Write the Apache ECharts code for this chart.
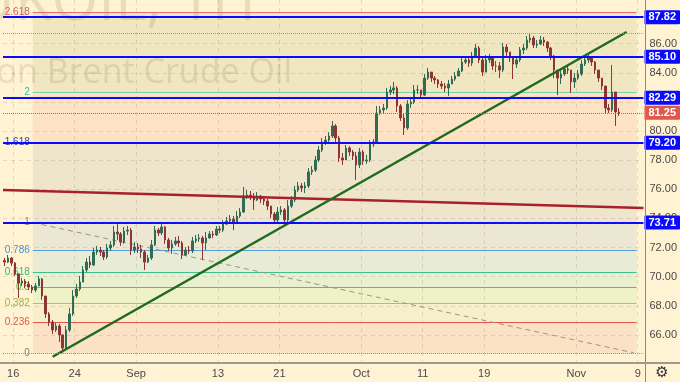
<!DOCTYPE html>
<html><head><meta charset="utf-8">
<script src="https://cdn.jsdelivr.net/npm/echarts/dist/echarts.min.js"></script>
<style>html,body{margin:0;padding:0;background:#fff3d3}#c{width:680px;height:382px}</style>
</head><body><div id="c"></div>
<script>
// ---- x axis: trading-day index (0 = Aug 16) -> tick label
const dayLabels = {0:'16',6:'24',12:'Sep',20:'13',26:'21',34:'Oct',40:'11',46:'19',55:'Nov',61:'9'};
const yTicks = [66,68,70,72,74,76,78,80,82,84,86];
const barsPerDay = 3;       // 8-hour candles
const firstBarDay = -1;     // first candle starts on the trading day before Aug 16
const firstOpen = 71.10;

const closes = [
71.00,71.28,70.93,70.19,69.56,69.70,69.50,69.29,69.08,69.36,
69.84,68.67,67.44,66.88,66.34,66.61,66.00,65.10,66.34,67.44,
68.67,69.15,69.63,70.46,71.00,70.80,71.69,71.83,71.69,71.35,
71.97,72.18,73.06,72.93,72.38,73.13,73.20,71.83,72.04,71.90,
71.69,71.00,71.28,72.18,73.20,73.00,73.41,72.52,71.97,72.25,
72.45,72.31,71.49,71.83,71.76,72.45,72.59,72.66,72.31,72.66,
72.93,72.86,73.27,73.20,73.61,73.82,73.96,73.75,74.16,74.44,
75.54,75.61,75.54,75.26,75.54,75.33,75.19,74.85,74.30,73.89,
74.44,74.58,73.89,74.85,75.26,75.95,76.23,76.09,76.23,77.19,
77.32,78.01,78.70,79.25,79.38,79.66,80.35,79.52,78.15,78.01,
78.84,78.56,78.29,77.67,78.56,77.94,78.01,79.11,79.25,81.24,
81.45,81.58,82.68,82.82,82.96,81.72,80.90,80.21,81.86,81.99,
82.82,82.82,82.47,83.64,84.05,83.64,83.51,83.23,83.09,82.96,
83.23,83.57,83.78,84.12,84.74,84.88,84.67,85.15,85.70,84.88,
84.05,84.88,85.02,84.47,84.47,84.19,85.77,85.43,85.02,84.60,
84.88,85.57,85.70,86.25,86.39,85.91,85.98,86.25,86.11,85.70,
85.15,84.19,83.64,83.92,84.26,84.19,83.37,83.64,83.92,84.60,
84.88,85.02,84.74,84.19,83.64,83.09,81.58,81.45,82.68,81.31,
81.25];
const highs = [
71.28,71.49,71.35,71.00,70.05,69.91,69.84,69.70,69.43,69.56,
70.05,69.91,68.67,67.57,67.02,66.81,66.75,66.00,66.61,67.85,
69.08,69.50,70.05,70.73,71.28,71.42,71.97,72.11,72.04,71.83,
72.25,72.45,73.48,73.61,73.06,73.41,73.48,73.34,72.38,72.31,
72.18,71.83,71.49,72.52,73.48,73.34,73.75,73.48,72.66,72.52,
72.73,72.79,72.45,72.04,72.11,72.73,72.86,72.93,72.79,73.06,
73.13,73.13,73.48,73.48,73.89,74.10,74.23,74.16,74.51,74.71,
76.16,75.95,75.88,75.74,75.81,75.61,75.54,75.33,74.85,74.44,
74.78,74.85,74.71,75.26,75.54,76.23,76.50,76.43,76.50,77.46,
77.60,78.29,78.97,79.52,79.66,79.93,80.69,80.48,79.66,78.49,
79.04,78.97,78.70,78.56,78.84,78.70,78.36,79.38,79.45,81.72,
81.72,81.86,82.96,83.09,83.37,83.09,81.86,81.17,82.13,82.27,
83.16,83.16,82.82,83.92,84.33,84.05,83.78,83.57,83.44,83.30,
83.51,83.78,84.05,84.33,85.02,85.15,85.02,85.43,85.98,85.84,
85.02,85.22,85.29,85.15,84.81,84.74,86.05,85.98,85.43,85.15,
85.15,85.77,85.98,86.53,86.74,86.53,86.25,86.53,86.46,86.18,
85.77,85.22,84.19,84.19,84.47,84.47,84.19,83.99,84.19,84.88,
85.22,85.22,85.08,84.81,84.19,83.64,83.09,81.86,84.54,82.68,
81.58];
const lows = [
70.73,70.93,70.73,70.05,68.53,69.36,69.22,69.08,68.87,68.94,
69.36,68.40,67.16,66.61,66.07,66.20,65.51,64.77,65.31,66.20,
67.30,68.53,69.01,69.77,70.32,70.59,70.73,71.49,71.42,71.14,
71.21,71.76,72.04,72.52,72.11,72.25,72.86,71.49,71.62,71.62,
71.28,70.46,70.93,71.14,72.11,72.79,72.86,72.25,71.76,71.56,
72.11,72.04,71.21,71.42,71.56,71.62,72.31,72.38,71.14,71.83,
72.59,72.66,72.79,73.00,73.06,73.55,73.68,73.20,73.61,74.03,
74.37,75.33,75.26,74.58,75.19,75.05,74.92,74.58,74.03,73.61,
73.75,74.23,73.48,73.61,74.71,75.12,75.81,75.81,75.74,76.09,
76.98,77.19,77.87,78.56,79.04,79.18,79.52,79.25,77.87,77.67,
78.01,78.29,78.01,76.64,77.46,77.67,77.74,77.87,78.90,79.11,
81.10,81.24,81.45,82.47,82.54,81.31,80.69,79.73,80.07,81.58,
81.86,82.54,82.27,82.41,83.51,83.37,83.23,82.96,82.89,82.68,
82.41,83.23,83.44,83.78,84.05,84.60,84.40,84.47,85.02,84.67,
83.78,84.05,84.67,84.19,84.05,83.64,84.05,85.15,84.74,83.57,
84.33,84.74,85.29,85.57,86.05,85.70,85.70,85.91,85.84,85.43,
84.88,83.64,82.47,83.23,83.78,83.92,82.61,82.96,83.51,83.78,
84.47,84.67,84.47,83.92,83.37,82.82,81.24,81.24,81.31,80.35,
81.03];

// user-drawn horizontal levels (blue)
const keyLevels = [87.82, 85.10, 82.29, 79.20, 73.71];
// trend lines [dayIndex, price]
const redTrend = [[-1, 75.95], [61.56, 74.72]];
const greenTrend = [[3.85, 64.50], [59.91, 86.80]];
// Fibonacci retracement tool: point "1" -> point "0"
const fibP1 = [1.91, 73.71];
const fibP0 = [60.6, 64.77];
const fibRightEnd = 60.88;
const fibLevels = ['0','0.236','0.382','0.5','0.618','0.786','1','1.618','2','2.618'];
const fibLineColors = ['#8d8d8d','#e0564e','#a5cc3a','#4ccf45','#3ec28c','#5a9ed6','#9a9a9a','#2f4fd8','#74cfaa','#e86f6f'];
const fibLabelColors = ['#808080','#e0564e','#9ab830','#3fbf3a','#30b880','#4a90d0','#8a8a8a','#2a3fc0','#3cbf90','#e05c5c'];
const fibBandColors = ['#fbe2c5','#f6efc9','#eff1c7','#e9efcf','#e8ecd7','#ece7d3','#efe5cd','#fde3c4','#f0e6c0'];

const fibPrice = l => fibP0[1] + parseFloat(l) * (fibP1[1] - fibP0[1]);

const candleData = closes.map((c, i) => [
  firstBarDay + (i + 0.5) / barsPerDay,
  i === 0 ? firstOpen : closes[i - 1], c, lows[i], highs[i]
]);
const lastClose = closes[closes.length - 1];
const maxHigh = Math.max(...highs), minLow = Math.min(...lows);

const bandData = fibLevels.slice(0, -1).map((l, k) =>
  [fibP1[0], fibPrice(l), fibRightEnd, fibPrice(fibLevels[k + 1])]);

const gridStyle = {color: 'rgba(110,100,80,0.18)', type: [4, 4], width: 1};
const gridLines = [
  ...Object.keys(dayLabels).map(d => ({xAxis: +d, lineStyle: gridStyle, label: {show: false}})),
  ...yTicks.map(v => ({yAxis: v, lineStyle: gridStyle, label: {show: false}}))
];
const fibMarkLines = fibLevels.map((l, k) => [
  {coord: [fibP1[0], fibPrice(l)],
   lineStyle: {color: fibLineColors[k], width: 1, type: k === 0 ? 'dotted' : 'solid'},
   label: {show: true, position: 'start', distance: 3, formatter: l, color: fibLabelColors[k],
           fontSize: 10, fontFamily: 'Liberation Sans'}},
  {coord: [fibRightEnd, fibPrice(l)]}
]);

const boxLabel = bg => ({show: true, position: 'end', distance: 1, formatter: p => p.value.toFixed(2),
  backgroundColor: bg, color: '#ffffff', fontWeight: 'bold', fontSize: 11, fontFamily: 'Liberation Sans',
  padding: [2, 4, 1, 4], borderRadius: 1});

const chart = echarts.init(document.getElementById('c'), null, {renderer: 'canvas'});
chart.setOption({
  animation: false,
  backgroundColor: '#fff3d3',
  grid: {left: 0, right: 35, top: 0, bottom: 18, containLabel: false},
  xAxis: {type: 'value', min: -1, max: 61.56, interval: 1,
    axisLine: {show: false}, axisTick: {show: false}, splitLine: {show: false},
    axisLabel: {margin: 4, color: '#4a4a4a', fontSize: 11, fontFamily: 'Liberation Sans',
      formatter: v => dayLabels[v] !== undefined && Number.isInteger(v) ? dayLabels[v] : ''}},
  yAxis: {type: 'value', position: 'right', min: 64, max: 89, interval: 2,
    axisLine: {show: false}, axisTick: {show: false}, splitLine: {show: false},
    axisLabel: {margin: 6, color: '#4a4a4a', fontSize: 11, fontFamily: 'Liberation Sans',
      formatter: v => (yTicks.includes(v) && v !== 82) ? v.toFixed(2) : ''}},
  graphic: [
    {type: 'text', x: 256, y: 3, z: 2, silent: true,
     style: {text: 'UKOIL, 1H', font: '60px "Open Sans"', fill: 'rgba(120,100,60,0.16)', align: 'right', verticalAlign: 'middle'}},
    {type: 'text', x: 292, y: 73, z: 2, silent: true,
     style: {text: 'CFDs on Brent Crude Oil', font: '34px "Open Sans"', fill: 'rgba(120,100,60,0.16)', align: 'right', verticalAlign: 'middle'}},
    {type: 'line', z: 10, silent: true, shape: {x1: 645.5, y1: 0, x2: 645.5, y2: 382}, style: {stroke: '#8f887a', lineWidth: 1}},
    {type: 'line', z: 10, silent: true, shape: {x1: 0, y1: 363, x2: 680, y2: 363}, style: {stroke: '#a09a8b', lineWidth: 2}},
    {type: 'text', x: 662, y: 373, z: 10, silent: true,
     style: {text: '\u2699', font: '15px "DejaVu Sans"', fill: '#333', align: 'center', verticalAlign: 'middle'}}
  ],
  series: [
    {name: 'fibBands', type: 'custom', z: 1, silent: true, clip: true,
     encode: {x: [0, 2], y: [1, 3]}, data: bandData,
     renderItem: (params, api) => {
       const a = api.coord([api.value(0), api.value(1)]);
       const b = api.coord([api.value(2), api.value(3)]);
       return {type: 'rect', shape: {x: a[0], y: b[1], width: b[0] - a[0], height: a[1] - b[1]},
               style: {fill: fibBandColors[params.dataIndex]}};
     }},
    {name: 'fibTrend', type: 'line', z: 2, silent: true, symbol: 'none', data: [fibP1, fibP0],
     lineStyle: {color: '#9a9488', width: 1, type: [5, 4]},
     markLine: {silent: true, z: 2, symbol: ['none', 'none'], animation: false,
       data: [...gridLines, ...fibMarkLines]}},
    {name: 'UKOIL', type: 'candlestick', z: 3, silent: true, barWidth: 2,
     dimensions: ['t', 'open', 'close', 'lowest', 'highest'],
     encode: {x: 't', y: ['open', 'close', 'lowest', 'highest']},
     data: candleData,
     itemStyle: {color: '#2f6b55', color0: '#8e3434', borderColor: '#2f6b55', borderColor0: '#8e3434', borderWidth: 1}},
    {name: 'redTrend', type: 'line', z: 4, silent: true, symbol: 'none', data: redTrend,
     lineStyle: {color: '#a8202a', width: 2.5}},
    {name: 'greenTrend', type: 'line', z: 4, silent: true, symbol: 'none', data: greenTrend,
     lineStyle: {color: '#1e6a1e', width: 2.5},
     markLine: {silent: true, z: 6, symbol: ['none', 'none'], animation: false,
       data: [
         {yAxis: maxHigh, lineStyle: {color: '#9a9a9a', type: 'dotted', width: 1}, label: {show: false}},
         {yAxis: minLow, lineStyle: {color: '#9a9a9a', type: 'dotted', width: 1}, label: {show: false}},
         {yAxis: lastClose, lineStyle: {color: '#e0584c', type: 'dotted', width: 1}, label: boxLabel('#e0584c')},
         ...keyLevels.map(v => ({yAxis: v, lineStyle: {color: '#0a0aff', type: 'solid', width: 2}, label: boxLabel('#0a0aff')}))
       ]}}
  ]
});
</script></body></html>
